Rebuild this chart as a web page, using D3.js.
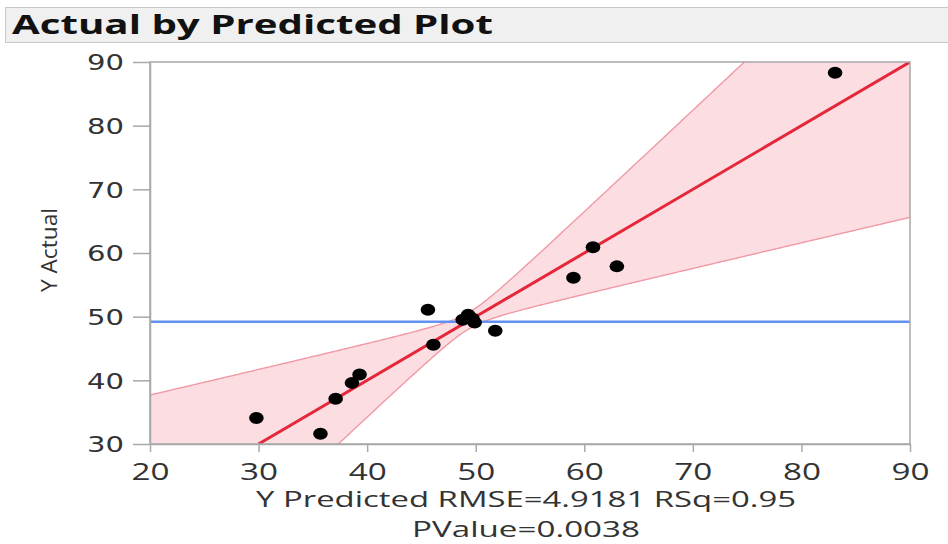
<!DOCTYPE html>
<html><head><meta charset="utf-8">
<script src="https://cdn.jsdelivr.net/npm/d3@7"></script>
<style>body{margin:0;background:#fff}svg{display:block}</style>
</head><body>
<script>
const predicted = [29.8, 35.7, 37.1, 38.6, 39.3, 45.6, 46.1, 48.8, 49.3, 49.7, 49.9, 51.8, 59.0, 60.8, 63.0, 83.1];
const actual    = [34.1, 31.6, 37.1, 39.6, 40.9, 51.1, 45.6, 49.5, 50.3, 49.7, 49.1, 47.8, 56.1, 60.9, 57.9, 88.3];
const xTicks = [20, 30, 40, 50, 60, 70, 80, 90];
const yTicks = [30, 40, 50, 60, 70, 80, 90];
const meanActual = 49.2;
const bandCenter = 49.4, bandWaist = 1.3, bandSlope = 0.6;
const titleText = "Actual by Predicted Plot";
const yLabel = "Y Actual";
const xLabel1 = "Y Predicted RMSE=4.9181 RSq=0.95";
const xLabel2 = "PValue=0.0038";

const W = 948, H = 544;
const L = 150, R = 910, T = 62, B = 444;
const svg = d3.select("body").append("svg").attr("width", W).attr("height", H);

// title bar
svg.append("rect").attr("x", 5.5).attr("y", 7.5).attr("width", 945).attr("height", 35)
  .attr("fill", "#f0f0f0").attr("stroke", "#c8c8c8");
svg.append("text").attr("x", 12).attr("y", 34).text(titleText)
  .attr("font-family", "Open Sans").attr("font-weight", "bold").attr("font-size", 27.5)
  .attr("textLength", 481).attr("lengthAdjust", "spacingAndGlyphs").attr("fill", "#111");

const x = d3.scaleLinear().domain([20, 90]).range([L, R]);
const y = d3.scaleLinear().domain([30, 90]).range([B, T]);

svg.append("defs").append("clipPath").attr("id", "clip")
  .append("rect").attr("x", L).attr("y", T).attr("width", R - L).attr("height", B - T);
const plot = svg.append("g").attr("clip-path", "url(#clip)");

// confidence band
const xs = d3.range(20, 90.01, 0.25);
const half = v => Math.sqrt(bandWaist * bandWaist + bandSlope * bandSlope * (v - bandCenter) ** 2);
const upper = v => v + half(v), lower = v => v - half(v);
plot.append("path").datum(xs)
  .attr("d", d3.area().x(d => x(d)).y0(d => y(lower(d))).y1(d => y(upper(d))))
  .attr("fill", "#fcdde1").attr("stroke", "none");
plot.append("path").datum(xs).attr("d", d3.line().x(d => x(d)).y(d => y(upper(d))))
  .attr("fill", "none").attr("stroke", "#f09aa5").attr("stroke-width", 1.4);
plot.append("path").datum(xs).attr("d", d3.line().x(d => x(d)).y(d => y(lower(d))))
  .attr("fill", "none").attr("stroke", "#f09aa5").attr("stroke-width", 1.4);

// mean line
plot.append("line").attr("x1", L).attr("x2", R).attr("y1", y(meanActual)).attr("y2", y(meanActual))
  .attr("stroke", "#6391f2").attr("stroke-width", 2.6);
// fit line y = x
plot.append("line").attr("x1", x(30)).attr("y1", y(30)).attr("x2", x(90)).attr("y2", y(90))
  .attr("stroke", "#e4283a").attr("stroke-width", 3);

// points
plot.selectAll("ellipse.pt").data(predicted.map((p, i) => [p, actual[i]])).join("ellipse")
  .attr("class", "pt").attr("cx", d => x(d[0])).attr("cy", d => y(d[1]))
  .attr("rx", 7.3).attr("ry", 6).attr("fill", "#000");

// frame
svg.append("rect").attr("x", L).attr("y", T).attr("width", R - L).attr("height", B - T)
  .attr("fill", "none").attr("stroke", "#a8a8a8").attr("stroke-width", 1.5);

// axes
const xAxis = svg.append("g").attr("transform", `translate(0,${B})`)
  .call(d3.axisBottom(x).tickValues(xTicks).tickSize(8).tickSizeOuter(0));
const yAxis = svg.append("g").attr("transform", `translate(${L},0)`)
  .call(d3.axisLeft(y).tickValues(yTicks).tickSize(17).tickSizeOuter(0));
[xAxis, yAxis].forEach(g => {
  g.select(".domain").attr("stroke", "#a8a8a8").attr("stroke-width", 1.5);
  g.selectAll(".tick line").attr("stroke", "#a8a8a8").attr("stroke-width", 1.5);
});
xAxis.selectAll(".tick text").attr("font-family", "Open Sans").attr("font-size", 23.5)
  .attr("fill", "#333").attr("dy", 0).attr("y", 36)
  .attr("textLength", 38).attr("lengthAdjust", "spacingAndGlyphs");
yAxis.selectAll(".tick text").attr("font-family", "DejaVu Sans").attr("font-size", 22)
  .attr("fill", "#333").attr("x", -26).attr("dy", "0.36em")
  .attr("textLength", 37).attr("lengthAdjust", "spacingAndGlyphs");

// axis titles
svg.append("text").attr("x", 526).attr("y", 507).attr("text-anchor", "middle").text(xLabel1)
  .attr("font-family", "Open Sans").attr("font-size", 22.5).attr("fill", "#333")
  .attr("textLength", 540).attr("lengthAdjust", "spacingAndGlyphs");
svg.append("text").attr("x", 526).attr("y", 537).attr("text-anchor", "middle").text(xLabel2)
  .attr("font-family", "Open Sans").attr("font-size", 22.5).attr("fill", "#333")
  .attr("textLength", 228).attr("lengthAdjust", "spacingAndGlyphs");
svg.append("text").attr("transform", "translate(57,250) rotate(-90)").attr("text-anchor", "middle")
  .text(yLabel).attr("font-family", "Open Sans").attr("font-size", 21).attr("fill", "#333")
  .attr("textLength", 84).attr("lengthAdjust", "spacingAndGlyphs");
</script>
</body></html>
